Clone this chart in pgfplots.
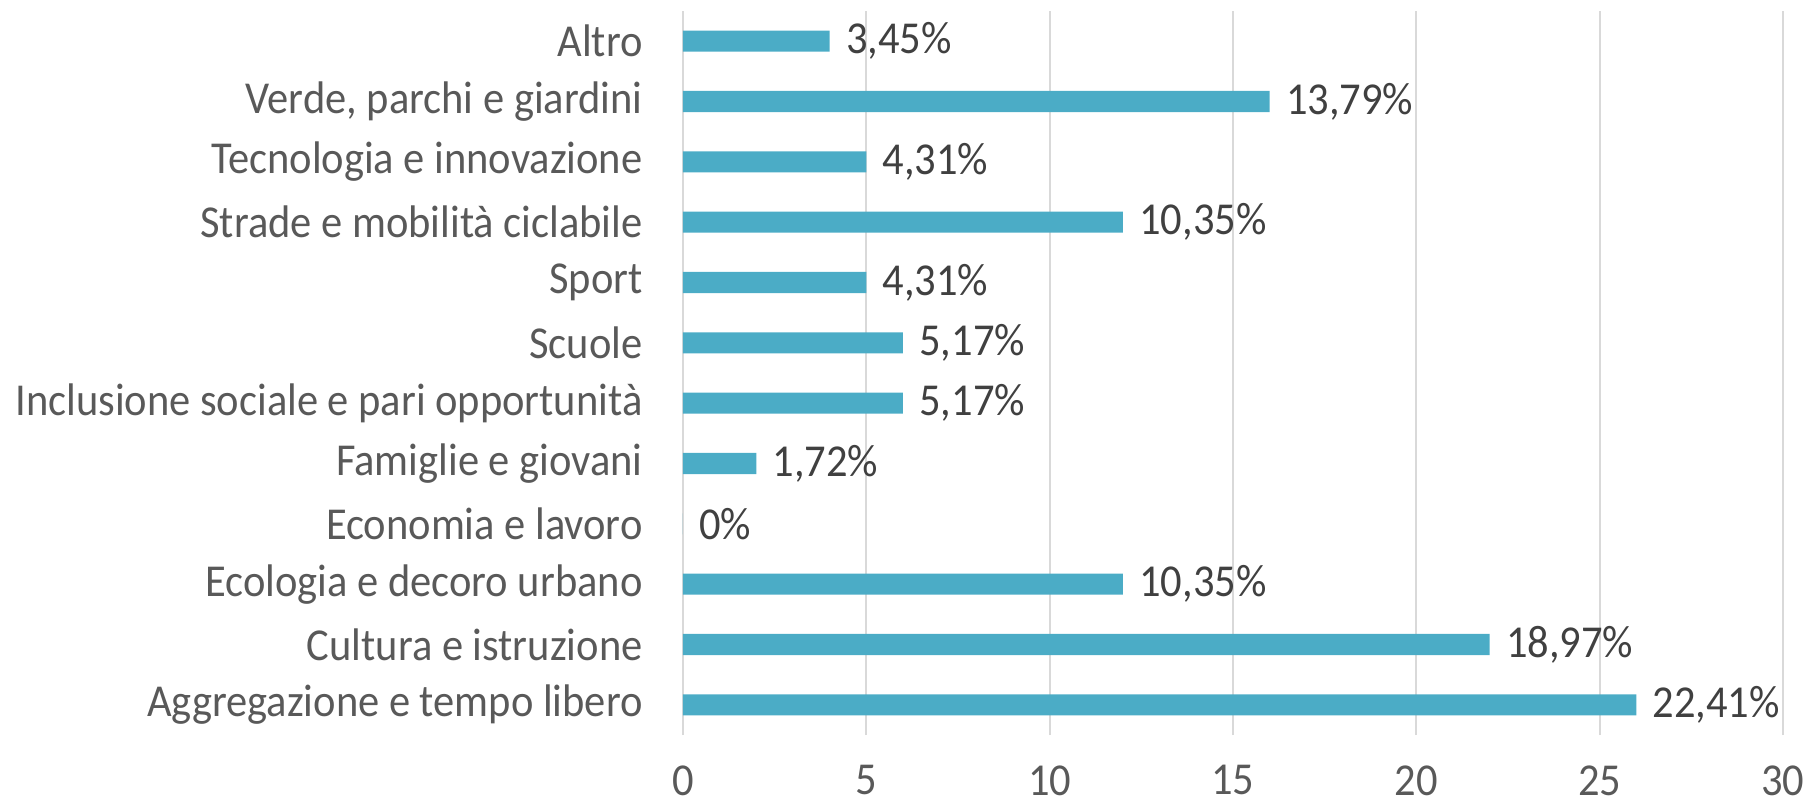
\documentclass[border=0pt]{standalone}
\usepackage{fontspec}
\setmainfont{Carlito}[FakeStretch=0.93]
\usepackage{pgfplots}
\pgfplotsset{compat=1.18}
\definecolor{barcol}{HTML}{4BACC6}
\definecolor{txtgray}{HTML}{595959}
\definecolor{lblgray}{HTML}{404040}
\definecolor{gridgray}{HTML}{D9D9D9}

\begin{document}
\begin{tikzpicture}
\begin{axis}[
    scale only axis,
    width=110mm, height=72.4mm,
    xbar, bar shift=0pt, bar width=0.35,
    xmin=0, xmax=30,
    ymin=-0.5, ymax=11.5,
    xtick={0,5,...,30},
    ytick={0,...,11},
    yticklabels={Aggregazione e tempo libero, Cultura e istruzione,
        Ecologia e decoro urbano, Economia e lavoro, Famiglie e giovani,
        Inclusione sociale e pari opportunità, Scuole, Sport,
        Strade e mobilità ciclabile, Tecnologia e innovazione,
        {Verde, parchi e giardini}, Altro},
    axis line style={draw=none},
    major tick length=0pt,
    xmajorgrids, grid style={gridgray, line width=0.6pt},
    tick label style={font=\fontsize{13}{15}\selectfont, text=txtgray},
    /pgf/number format/assume math mode=true,
    xticklabel style={yshift=-1.8mm},
    yticklabel style={xshift=-2.8mm},
    point meta=explicit symbolic,
    nodes near coords,
    nodes near coords style={font=\fontsize{13}{15}\selectfont, text=lblgray, anchor=west, xshift=0.4mm},
]
\addplot[fill=barcol, draw=none] coordinates {
    (26,0) [22,41\%]
    (22,1) [18,97\%]
    (12,2) [10,35\%]
    (0,3) [0\%]
    (2,4) [1,72\%]
    (6,5) [5,17\%]
    (6,6) [5,17\%]
    (5,7) [4,31\%]
    (12,8) [10,35\%]
    (5,9) [4,31\%]
    (16,10) [13,79\%]
    (4,11) [3,45\%]
};
\end{axis}
\pgfresetboundingbox
\useasboundingbox (-68.3mm,-7mm) rectangle (112.3mm,73.5mm);
\end{tikzpicture}
\end{document}
